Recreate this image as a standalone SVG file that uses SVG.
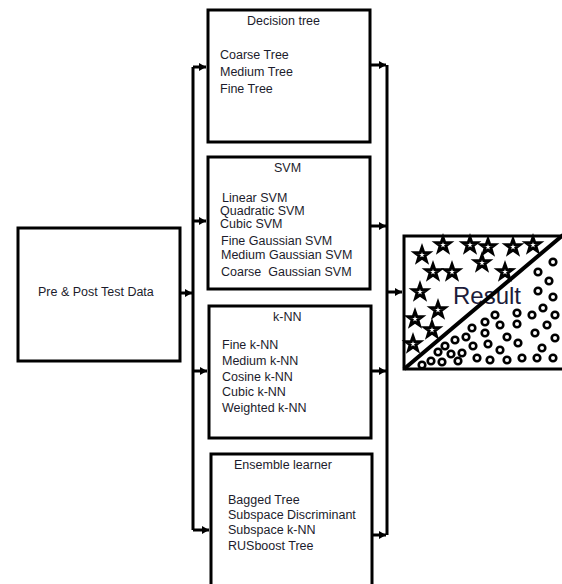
<svg xmlns="http://www.w3.org/2000/svg" width="562" height="584" viewBox="0 0 562 584">
<style>
.box{fill:#fff;stroke:#000;stroke-width:3}
.t{font-family:"Liberation Sans",Arial,sans-serif;font-size:12.5px;fill:#1c1c2c}
.c{fill:none;stroke:#000;stroke-width:3}
.star{fill:#fff;stroke:#000;stroke-width:3;stroke-linejoin:miter}
.ring{fill:#fff;stroke:#000;stroke-width:2.6}
</style>
<defs>
<marker id="ah" markerUnits="userSpaceOnUse" markerWidth="8" markerHeight="8" refX="7" refY="4" orient="auto">
<path d="M0,0 L7,4 L0,8 Z" fill="#000"/>
</marker>
<path id="st" d="M0,-7.5 L1.76,-2.43 L7.1,-2.3 L2.85,0.93 L4.4,6.06 L0,3 L-4.4,6.06 L-2.85,0.93 L-7.1,-2.3 L-1.76,-2.43 Z"/>
</defs>
<rect width="562" height="584" fill="#fff"/>

<g id="connectors">
<path class="c" d="M180,293 H192" marker-end="url(#ah)"/>
<path class="c" d="M193,530 V67"/>
<path class="c" d="M193,67 H206" marker-end="url(#ah)"/>
<path class="c" d="M193,221 H206" marker-end="url(#ah)"/>
<path class="c" d="M193,371 H207" marker-end="url(#ah)"/>
<path class="c" d="M193,530 H209" marker-end="url(#ah)"/>
<path class="c" d="M387,65 V535"/>
<path class="c" d="M371,65 H386" marker-end="url(#ah)"/>
<path class="c" d="M371,226 H386" marker-end="url(#ah)"/>
<path class="c" d="M372,371 H386" marker-end="url(#ah)"/>
<path class="c" d="M373,535 H386" marker-end="url(#ah)"/>
<path class="c" d="M387,292 H402" marker-end="url(#ah)"/>
</g>

<g id="input">
<rect class="box" x="18" y="228" width="162" height="133"/>
<text class="t" x="38" y="296">Pre &amp; Post Test Data</text>
</g>

<g id="decision-tree">
<rect class="box" x="208" y="10" width="162" height="132"/>
<text class="t" x="247" y="25">Decision tree</text>
<text class="t" x="220" y="59">Coarse Tree</text>
<text class="t" x="220" y="76">Medium Tree</text>
<text class="t" x="220" y="93">Fine Tree</text>
</g>

<g id="svm">
<rect class="box" x="208" y="157" width="162" height="132"/>
<text class="t" x="274" y="172">SVM</text>
<text class="t" x="222" y="202">Linear SVM</text>
<text class="t" x="220" y="215">Quadratic SVM</text>
<text class="t" x="220" y="228">Cubic SVM</text>
<text class="t" x="221" y="245">Fine Gaussian SVM</text>
<text class="t" x="221" y="259">Medium Gaussian SVM</text>
<text class="t" x="221" y="276" xml:space="preserve">Coarse  Gaussian SVM</text>
</g>

<g id="knn">
<rect class="box" x="209" y="306" width="162" height="132"/>
<text class="t" x="273" y="321">k-NN</text>
<text class="t" x="222" y="349">Fine k-NN</text>
<text class="t" x="222" y="365">Medium k-NN</text>
<text class="t" x="222" y="381">Cosine k-NN</text>
<text class="t" x="222" y="396">Cubic k-NN</text>
<text class="t" x="222" y="412">Weighted k-NN</text>
</g>

<g id="ensemble">
<rect class="box" x="211" y="454" width="161" height="140"/>
<text class="t" x="234" y="469">Ensemble learner</text>
<text class="t" x="228" y="504">Bagged Tree</text>
<text class="t" x="228" y="519">Subspace Discriminant</text>
<text class="t" x="228" y="534">Subspace k-NN</text>
<text class="t" x="228" y="550">RUSboost Tree</text>
</g>

<g id="result">
<rect class="box" x="404" y="236" width="170" height="133"/>
<g class="star">
<use href="#st" x="422" y="255"/><use href="#st" x="443" y="245"/><use href="#st" x="470" y="245"/>
<use href="#st" x="488" y="247"/><use href="#st" x="513" y="247"/><use href="#st" x="533" y="245"/>
<use href="#st" x="433" y="272"/><use href="#st" x="452" y="272"/><use href="#st" x="482" y="263"/>
<use href="#st" x="505" y="272"/><use href="#st" x="420" y="292"/><use href="#st" x="438" y="310"/>
<use href="#st" x="415" y="319"/><use href="#st" x="432" y="330"/><use href="#st" x="413" y="344"/>
</g>
<g class="ring">
<circle cx="553" cy="262" r="3.3"/><circle cx="538" cy="272" r="3.3"/><circle cx="549" cy="281" r="3.3"/>
<circle cx="538" cy="291" r="3.3"/><circle cx="553" cy="297" r="3.3"/><circle cx="543" cy="308" r="3.3"/>
<circle cx="555" cy="315" r="3.3"/><circle cx="532" cy="315" r="3.3"/><circle cx="517" cy="313" r="3.3"/>
<circle cx="495" cy="315" r="3.3"/><circle cx="485" cy="322" r="3.3"/><circle cx="500" cy="325" r="3.3"/>
<circle cx="517" cy="324" r="3.3"/><circle cx="547" cy="325" r="3.3"/><circle cx="472" cy="328" r="3.3"/>
<circle cx="535" cy="333" r="3.3"/><circle cx="555" cy="338" r="3.3"/><circle cx="485" cy="333" r="3.3"/>
<circle cx="507" cy="337" r="3.3"/><circle cx="466" cy="337" r="3.3"/><circle cx="518" cy="343" r="3.3"/>
<circle cx="455" cy="340" r="3.3"/><circle cx="445" cy="346" r="3.3"/><circle cx="473" cy="346" r="3.3"/>
<circle cx="488" cy="344" r="3.3"/><circle cx="542" cy="348" r="3.3"/><circle cx="500" cy="350" r="3.3"/>
<circle cx="462" cy="353" r="3.3"/><circle cx="451" cy="354" r="3.3"/><circle cx="438" cy="352" r="3.3"/>
<circle cx="431" cy="361" r="3.3"/><circle cx="442" cy="362" r="3.3"/><circle cx="458" cy="361" r="3.3"/>
<circle cx="477" cy="358" r="3.3"/><circle cx="490" cy="360" r="3.3"/><circle cx="507" cy="360" r="3.3"/>
<circle cx="522" cy="358" r="3.3"/><circle cx="537" cy="358" r="3.3"/><circle cx="553" cy="358" r="3.3"/>
<circle cx="422" cy="365" r="3.3"/>
</g>
<text x="453" y="304" font-family="Liberation Sans, Arial, sans-serif" font-size="24" fill="#1c1c3a">Result</text>
<path d="M404,369 L563,235" stroke="#000" stroke-width="4"/>
</g>
</svg>
